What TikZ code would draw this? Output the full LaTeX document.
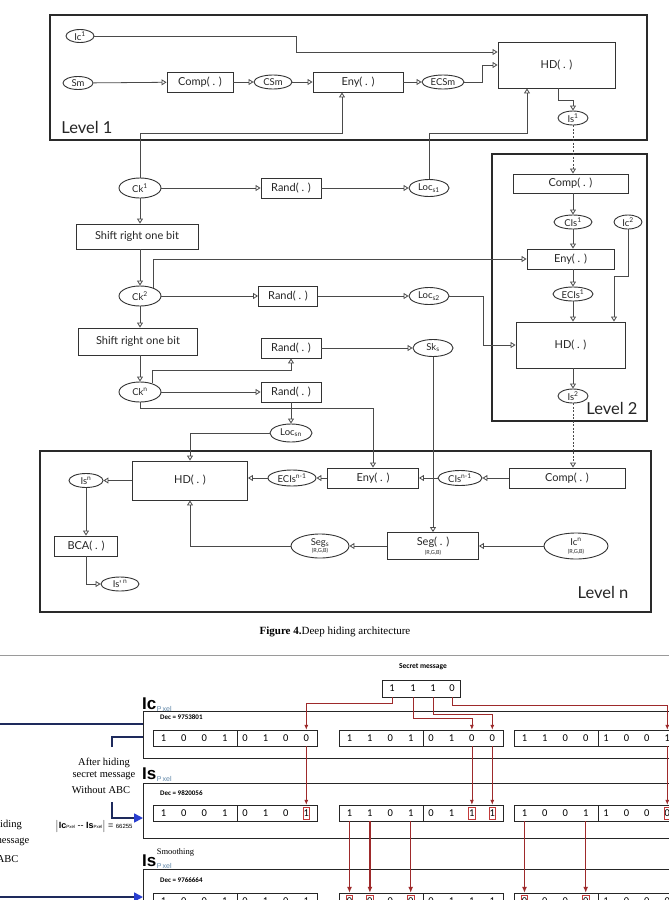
\documentclass[tikz,border=0pt]{standalone}
\usepackage{fontspec}
\setmainfont{Liberation Serif}
\newfontfamily\dgfont{Lato}
\newfontfamily\calfont{Carlito}
\newfontfamily\arialfont{Liberation Sans}
\usetikzlibrary{shapes.geometric,arrows.meta}
\definecolor{lc}{HTML}{4A4A4A}
\definecolor{bc}{HTML}{333333}
\definecolor{tc}{HTML}{262626}
\definecolor{fc}{HTML}{2A2A2A}
\definecolor{redc}{HTML}{9E2A2B}
\definecolor{redb}{HTML}{C23A3A}
\definecolor{navyc}{HTML}{1E2A5C}
\definecolor{bluec}{HTML}{2A3FD0}
\definecolor{pxc}{HTML}{5F86A8}
\definecolor{grayl}{HTML}{9A9A9A}
\newcommand{\bitgroup}[4]{%
  \draw[grp] (#2,#3) rectangle ++(164,16);
  \draw[grp] (#2+84,#3) -- ++(0,16);
  \foreach \d/\bcol [count=\i] in {#4}{%
    \node[bit] (#1d\i) at ({#2+10.5+20.4*(\i-1)},{#3+8}) {\d};
    \node[bitbox, draw=\bcol] at (#1d\i.center) {\phantom{0}};
  }%
}
\begin{document}
\begin{tikzpicture}[x=1pt,y=-1pt,
  arr/.style={draw=lc, line width=0.8pt, -{Triangle[open,length=5pt,width=6pt]}},
  bx/.style={draw=bc, line width=0.9pt, inner sep=0pt, text=tc, font=\dgfont\fontsize{11}{12}\selectfont},
  el/.style={draw=bc, line width=0.9pt, ellipse, inner xsep=-5pt, inner ysep=-2pt, text=tc, font=\dgfont\fontsize{9.5}{10}\selectfont},
  frm/.style={draw=fc, line width=2.8pt},
  lvl/.style={text=tc, font=\dgfont\fontsize{16.5}{17}\selectfont, inner sep=0pt},
  grp/.style={draw=black!85, line width=0.8pt},
  bit/.style={inner sep=0pt, minimum width=18pt, minimum height=16pt, font=\calfont\fontsize{10.5}{10.5}\selectfont},
  bitbox/.style={inner sep=0.5pt, line width=0.7pt, minimum height=12pt, font=\calfont\fontsize{10.5}{10.5}\selectfont},
  rarr/.style={draw=redc, line width=0.8pt, -{Latex[length=5pt,width=4pt]}},
  rarrt/.style={draw=redc, line width=1.5pt, -{Latex[length=6pt,width=5pt]}},
  navl/.style={draw=navyc, line width=1.6pt},
  dec/.style={anchor=west, inner sep=0pt, font=\calfont\bfseries\fontsize{7}{7}\selectfont},
  sertxt/.style={inner sep=0pt, font=\fontsize{10.5}{11}\selectfont},
]
\useasboundingbox (0,0) rectangle (669,900);
\fill[white] (0,0) rectangle (669,900);
\clip (0,0) rectangle (669,900);

% ---------- frames ----------
\draw[frm] (50,15) rectangle (647,140);
\draw[frm] (492,154) rectangle (647,421);
\draw[frm] (40,451) rectangle (651,612);
\node[lvl] (lv1) at (87,127) {Level 1};
\node[lvl] (lv2) at (612,408) {Level 2};
\node[lvl] (lvn) at (603,592) {Level n};

% ---------- Level 1 ----------
\node[el, minimum width=28pt, minimum height=13pt] (ic1) at (80,36) {Ic\textsuperscript{1}};
\node[el, minimum width=30pt, minimum height=13pt] (sm) at (78,83) {Sm};
\node[bx, minimum width=66pt, minimum height=20pt] (comp1) at (200,82) {Comp( . )};
\node[el, minimum width=38pt, minimum height=14pt] (csm) at (273,82) {CSm};
\node[bx, minimum width=90pt, minimum height=20pt] (eny1) at (358,82) {Eny( . )};
\node[el, minimum width=42pt, minimum height=14pt] (ecsm) at (443,82) {ECSm};
\node[bx, minimum width=117pt, minimum height=46pt] (hd1) at (556.5,65) {HD( . )};
\node[el, minimum width=30pt, minimum height=14pt] (is1) at (573,118) {Is\textsuperscript{1}};

\draw[arr] (ic1.east) -- (296,36) -- (296,52) -- ([yshift=13pt]hd1.west);
\draw[arr] (sm) -- (comp1);
\draw[arr] (comp1) -- (csm);
\draw[arr] (csm) -- (eny1);
\draw[arr] (eny1) -- (ecsm);
\draw[arr] (ecsm.east) -- (482,82) -- (482,65) -- (hd1.west);
\draw[arr] ([xshift=1.5pt]hd1.south) |- (573,100) -- (is1.north);

% ---------- left column ----------
\node[el, minimum width=42pt, minimum height=20pt] (ck1) at (140,188) {Ck\textsuperscript{1}};
\node[bx, minimum width=60pt, minimum height=20pt] (rand1) at (291,188) {Rand( . )};
\node[el, minimum width=40pt, minimum height=17pt] (locs1) at (429,188) {Loc\textsubscript{s1}};
\node[bx, minimum width=122pt, minimum height=25pt] (shift1) at (137,236.5) {Shift right one bit};
\node[el, minimum width=42pt, minimum height=20pt] (ck2) at (140,296) {Ck\textsuperscript{2}};
\node[bx, minimum width=59pt, minimum height=20pt] (rand2) at (288,296) {Rand( . )};
\node[el, minimum width=40pt, minimum height=17pt] (locs2) at (429,296) {Loc\textsubscript{s2}};
\node[bx, minimum width=119pt, minimum height=27pt] (shift2) at (138,341.5) {Shift right one bit};
\node[el, minimum width=42pt, minimum height=20pt] (ckn) at (140,392) {Ck\textsuperscript{n}};
\node[bx, minimum width=60pt, minimum height=20pt] (rand3) at (291,348) {Rand( . )};
\node[el, minimum width=40pt, minimum height=17pt] (sks) at (433,348) {Sk\textsubscript{s}};
\node[bx, minimum width=60pt, minimum height=20pt] (rand4) at (291,392) {Rand( . )};
\node[el, minimum width=42pt, minimum height=18pt] (locsn) at (291,433) {Loc\textsubscript{sn}};

\draw[arr] (ck1.north) |- (342,133) -- ([xshift=-16pt]eny1.south);
\draw[arr] (locs1.north) |- (527,133) -- ([xshift=-29.5pt]hd1.south);
\draw[arr] (ck1) -- (rand1);
\draw[arr] (rand1) -- (locs1);
\draw[arr] (ck1.south) -- (ck1.south |- shift1.north);
\draw[arr] (ck2.north |- shift1.south) -- (ck2.north);
\draw[arr] (ck2) -- (rand2);
\draw[arr] (rand2) -- (locs2);
\draw[arr] (ck2.south) -- (ck2.south |- shift2.north);
\draw[arr] (ckn.north |- shift2.south) -- (ckn.north);
\draw[arr] (ckn.35) |- (291,370) -- (rand3.south);
\draw[arr] (rand3) -- (sks);
\draw[arr] (ckn) -- (rand4);
\draw[arr] (rand4) -- (locsn);

% ---------- Level 2 ----------
\node[bx, minimum width=115pt, minimum height=19pt] (comp2) at (570.5,183.5) {Comp( . )};
\node[el, minimum width=38pt, minimum height=14pt] (cis1) at (573,222) {CIs\textsuperscript{1}};
\node[el, minimum width=28pt, minimum height=14pt] (ic2) at (628,222) {Ic\textsuperscript{2}};
\node[bx, minimum width=87pt, minimum height=20pt] (eny2) at (570.5,259) {Eny( . )};
\node[el, minimum width=40pt, minimum height=14pt] (ecis1) at (573,294) {ECIs\textsuperscript{1}};
\node[bx, minimum width=109pt, minimum height=46pt] (hd2) at (570.5,345) {HD( . )};
\node[el, minimum width=30pt, minimum height=14pt] (is2) at (573,396) {Is\textsuperscript{2}};

\draw[arr, dash pattern=on 2pt off 1.5pt] (is1.south) -- (is1.south |- comp2.north);
\draw[arr] (cis1.north |- comp2.south) -- (cis1.north);
\draw[arr] (cis1.south) -- (cis1.south |- eny2.north);
\draw[arr] (ecis1.north |- eny2.south) -- (ecis1.north);
\draw[arr] (ecis1.south) -- (ecis1.south |- hd2.north);
\draw[arr] (ic2.south) |- (614,276) -- ([xshift=43.5pt]hd2.north);
\draw[arr] (is2.north |- hd2.south) -- (is2.north);
\draw[arr] (ck2.30) |- (eny2.west);
\draw[arr] (locs2.east) -- (483,296) -- (483,345) -- (hd2.west);

% ---------- Level n ----------
\node[bx, minimum width=115pt, minimum height=39pt] (hdn) at (190,480.5) {HD( . )};
\node[bx, minimum width=91pt, minimum height=20pt] (enyn) at (373,478) {Eny( . )};
\node[el, minimum width=44pt, minimum height=15pt] (cisn) at (460,478) {CIs\textsuperscript{n-1}};
\node[bx, minimum width=116pt, minimum height=20pt] (compn) at (567,478) {Comp( . )};
\node[el, minimum width=48pt, minimum height=16pt] (ecisn) at (292,478) {ECIs\textsuperscript{n-1}};
\node[el, minimum width=34pt, minimum height=14pt] (isn) at (86,480.5) {Is\textsuperscript{n}};
\node[bx, minimum width=63pt, minimum height=20pt] (bca) at (86,546) {BCA( . )};
\node[el, minimum width=38pt, minimum height=14pt] (ispn) at (120,584) {Is'\textsuperscript{ n}};
\node[el, minimum width=58pt, minimum height=24pt, align=center] (segs) at (320,546) {Seg\textsubscript{s}\\[-3pt]{\fontsize{5.5}{5.5}\selectfont (R,G,B)}};
\node[bx, minimum width=91pt, minimum height=27pt, align=center] (segb) at (433,546) {Seg( . )\\[-3pt]{\fontsize{5.5}{5.5}\selectfont (R,G,B)}};
\node[el, minimum width=64pt, minimum height=26pt, align=center] (icn) at (576,546) {Ic\textsuperscript{n}\\[-2pt]{\fontsize{5.5}{5.5}\selectfont (R,G,B)}};

\draw[arr, dash pattern=on 2pt off 1.5pt] (is2.south) -- (is2.south |- compn.north);
\draw[arr] (ckn.south) |- (373,408) -- (enyn.north);
\draw[arr] (locsn.west) -| (hdn.north);
\draw[arr] (compn) -- (cisn);
\draw[arr] (cisn) -- (enyn);
\draw[arr] (enyn) -- (ecisn);
\draw[arr] (ecisn.west) -- (ecisn.west -| hdn.east);
\draw[arr] (hdn) -- (isn);
\draw[arr] (isn) -- (bca);
\draw[arr] (bca.south) |- (ispn.west);
\draw[arr] (segs.west) -| (hdn.south);
\draw[arr] (segb) -- (segs);
\draw[arr] (icn) -- (segb);
\draw[arr] (sks.south) -- (segb.north);

% ---------- caption ----------
\node[font=\fontsize{11}{12}\selectfont, inner sep=0pt] (cap) at (335,632) {\textbf{Figure 4.}Deep hiding architecture};

% ---------- lower figure ----------
\draw[grayl, line width=0.8pt] (0,655) -- (669,655);
\node[inner sep=0pt, font=\calfont\bfseries\fontsize{7.5}{8}\selectfont] (smsg) at (423,667) {Secret message};
\node[draw=black!85, line width=0.8pt, minimum width=78pt, minimum height=17pt, inner sep=0pt] (sec) at (421,688.5) {};
\foreach \x [count=\i] in {392,413,433,452}{
  \node[bit, minimum width=10pt, minimum height=17pt] (s\i) at (\x,688.5) {\ifnum\i=4 0\else 1\fi};
}

% frames of rows
\draw[grp, line width=0.6pt] (143,711) rectangle (690,758);
\draw[grp, line width=0.6pt] (143,783) rectangle (690,838);
\draw[grp, line width=0.6pt] (143,869) rectangle (690,920);

\bitgroup{r1a}{153}{730}{1/none,0/none,0/none,1/none,0/none,1/none,0/none,0/none}
\bitgroup{r1b}{339}{730}{1/none,1/none,0/none,1/none,0/none,1/none,0/none,0/none}
\bitgroup{r1c}{514}{730}{1/none,1/none,0/none,0/none,1/none,0/none,0/none,1/none}
\bitgroup{r2a}{153}{805}{1/none,0/none,0/none,1/none,0/none,1/none,0/none,1/redb}
\bitgroup{r2b}{339}{805}{1/none,1/none,0/none,1/none,0/none,1/none,1/redb,1/redb}
\bitgroup{r2c}{514}{805}{1/none,0/none,0/none,1/none,1/none,0/none,0/none,0/redb}
\bitgroup{r3a}{153}{893}{1/none,0/none,0/none,1/none,0/none,1/none,0/none,1/none}
\bitgroup{r3b}{339}{893}{0/redb,0/redb,0/none,0/redb,0/none,1/none,1/none,1/none}
\bitgroup{r3c}{514}{893}{0/redb,0/none,0/none,0/redb,1/none,0/none,0/none,0/none}

\node[dec] (dec1) at (160,717) {Dec = 9753801};
\node[dec] (dec2) at (160,793) {Dec = 9820056};
\node[dec] (dec3) at (160,880) {Dec = 9766664};

% secret message arrows
\draw[rarr] (s1.south) -- (392,703) -| (r1ad8.north);
\draw[rarr] (s2.south) -- (413,718) -| (r1bd7.north);
\draw[rarr] (s3.south) -- (433,714) -| (r1bd8.north);
\draw[rarr] (s4.south) -- (452,705) -| (r1cd8.north);
% row1 -> row2
\draw[rarr] (r1ad8.south) -- (r2ad8.north);
\draw[rarr] (r1bd7.south) -- (r2bd7.north);
\draw[rarr] (r1bd8.south) -- (r2bd8.north);
\draw[rarr] (r1cd8.south) -- (r2cd8.north);
% row2 -> row3
\draw[rarrt] (r2bd1.south) -- (r3bd1.north);
\draw[rarrt] (r2bd2.south) -- (r3bd2.north);
\draw[rarrt] (r2bd4.south) -- (r3bd4.north);
\draw[rarrt] (r2cd1.south) -- (r3cd1.north);
\draw[rarrt] (r2cd4.south) -- (r3cd4.north);

% labels Ic, Is, Is smoothing
\node[anchor=base west, inner sep=0pt, font=\arialfont\bfseries\fontsize{17}{17}\selectfont] (iclab) at (142,709) {Ic};
\node[anchor=base west, inner sep=0pt, font=\arialfont\fontsize{7}{7}\selectfont, text=pxc, yshift=-2pt] (icpx) at (iclab.base east) {P\,xel};
\node[anchor=base west, inner sep=0pt, font=\arialfont\bfseries\fontsize{17}{17}\selectfont] (islab) at (142,779) {Is};
\node[anchor=base west, inner sep=0pt, font=\arialfont\fontsize{7}{7}\selectfont, text=pxc, yshift=-2pt] (ispx) at (islab.base east) {P\,xel};
\node[anchor=base west, inner sep=0pt, font=\arialfont\bfseries\fontsize{17}{17}\selectfont] (issm) at (142,866) {Is};
\node[anchor=base west, inner sep=0pt, font=\arialfont\fontsize{7}{7}\selectfont, text=pxc, yshift=-2pt] (issmpx) at (issm.base east) {P\,xel};
\node[anchor=base west, inner sep=0pt, font=\fontsize{8.5}{9}\selectfont, yshift=12pt] (smooth) at (issm.base east) {Smoothing};

% left side lines and arrows
\draw[navl] (0,724) -- (143,724);
\draw[navl] (112,747) -- (112,737) -- (143,737);
\draw[navl, -{Triangle[color=bluec,length=9pt,width=9pt]}] (112,802) -- (112,818) -- (143,818);
\draw[navl, -{Triangle[color=bluec,length=9pt,width=9pt]}] (0,897) -- (143,897);

\node[sertxt] (ah1) at (104,763) {After hiding};
\node[sertxt] (ah2) at (104,776) {secret message};
\node[sertxt] (ah3) at (101,790) {Without ABC};
\node[sertxt] (wh1) at (-4,825) {After hiding};
\node[sertxt] (wh2) at (-2,842) {secret message};
\node[sertxt] (wh3) at (-4,859) {With ABC};
\node[inner sep=0pt, font=\arialfont\fontsize{9}{9}\selectfont] (formula) at (94,826)
  {$\left|\vphantom{\int}\hbox{\textbf{Ic}{\fontsize{4.5}{5}\selectfont Pxel} -- \textbf{Is}{\fontsize{4.5}{5}\selectfont Pxel}}\right|$ = {\fontsize{6}{6}\selectfont 66255}};
\end{tikzpicture}
\end{document}
